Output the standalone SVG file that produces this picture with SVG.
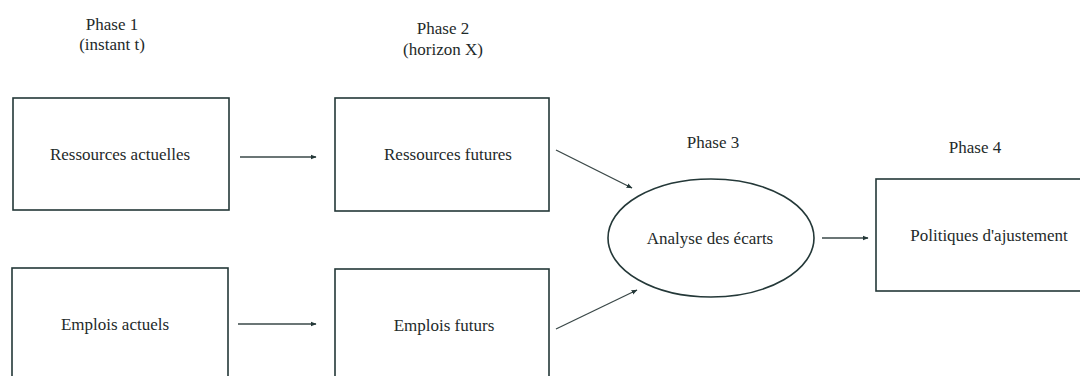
<svg xmlns="http://www.w3.org/2000/svg" width="1080" height="376" viewBox="0 0 1080 376">
<style>
.box{fill:#fff;stroke:#243838;stroke-width:1.6}
.t{font-family:"Liberation Serif","Times New Roman",serif;font-size:17px;fill:#1e2a2a;text-anchor:middle}
.c{stroke:#3a4848;stroke-width:1.3;fill:none;marker-end:url(#ah)}
</style>
<defs>
<marker id="ah" viewBox="0 0 10 10" refX="9" refY="5" markerWidth="6" markerHeight="6" markerUnits="userSpaceOnUse" orient="auto">
<path d="M0,1 L10,5 L0,9 z" fill="#243838"/>
</marker>
</defs>
<rect width="1080" height="376" fill="#fff"/>
<g id="labels">
<text class="t" x="112" y="30">Phase 1</text>
<text class="t" x="112" y="50">(instant t)</text>
<text class="t" x="443" y="34">Phase 2</text>
<text class="t" x="443" y="55">(horizon X)</text>
<text class="t" x="713" y="148">Phase 3</text>
<text class="t" x="975" y="153">Phase 4</text>
</g>
<g id="n1"><rect class="box" x="13" y="98" width="216" height="112"/><text class="t" x="120" y="160">Ressources actuelles</text></g>
<g id="n2"><rect class="box" x="335" y="98" width="214" height="113"/><text class="t" x="448" y="160">Ressources futures</text></g>
<g id="n3"><rect class="box" x="12" y="268" width="216" height="130"/><text class="t" x="115" y="330">Emplois actuels</text></g>
<g id="n4"><rect class="box" x="335" y="269" width="214" height="130"/><text class="t" x="444" y="331">Emplois futurs</text></g>
<g id="n5"><ellipse class="box" cx="711" cy="238" rx="103" ry="59"/><text class="t" x="710" y="244">Analyse des écarts</text></g>
<g id="n6"><rect class="box" x="876" y="179" width="220" height="112"/><text class="t" x="989" y="241">Politiques d'ajustement</text></g>
<g id="connectors">
<line class="c" x1="240" y1="157" x2="316" y2="157"/>
<line class="c" x1="238" y1="324" x2="316" y2="324"/>
<line class="c" x1="556" y1="150" x2="632" y2="188"/>
<line class="c" x1="556" y1="329" x2="637" y2="290"/>
<line class="c" x1="822" y1="238" x2="868" y2="238"/>
</g>
</svg>
